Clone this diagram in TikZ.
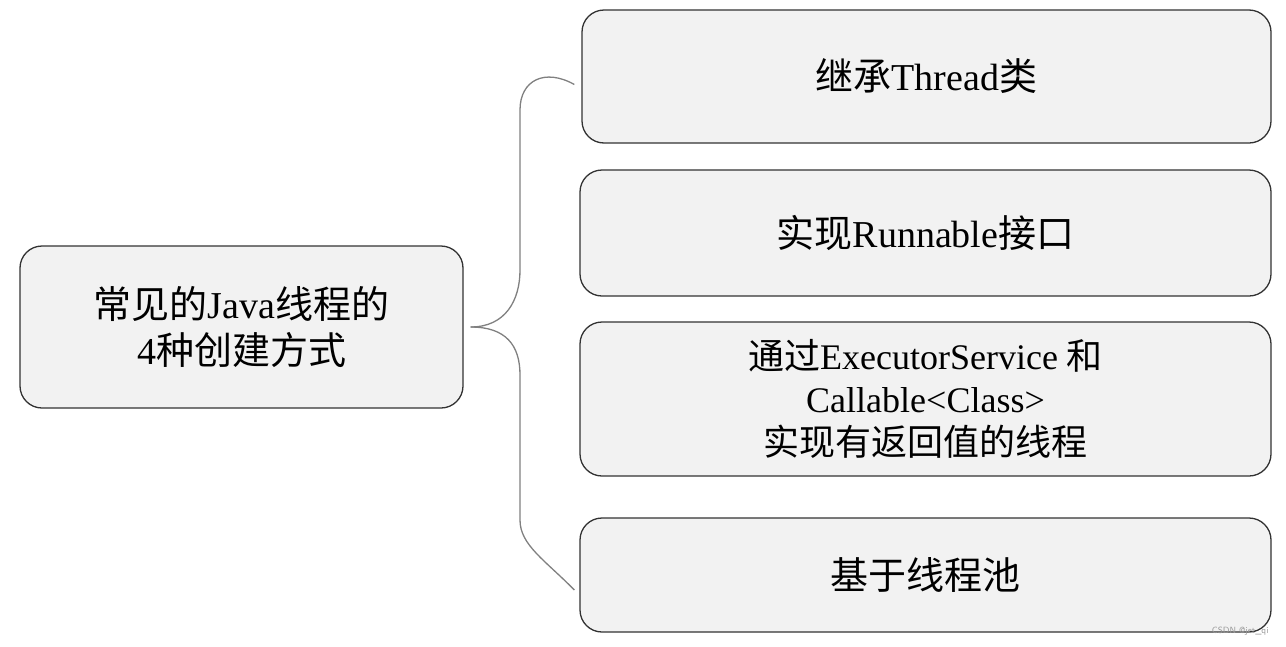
\documentclass[tikz,border=0pt]{standalone}
\usepackage{fontspec}
\setmainfont{Liberation Serif}
\newfontfamily\zh{Noto Sans CJK SC}
\begin{document}
\begin{tikzpicture}[x=1pt,y=-1pt,
 box/.style={draw=black!80,line width=1.3pt,fill=black!5,rounded corners=22pt,inner sep=0pt,align=center,font=\fontsize{38}{46}\selectfont},
 link/.style={draw=black!50,line width=1.3pt}]
\useasboundingbox (0,0) rectangle (1286,646);
\node[box,minimum width=443pt,minimum height=162pt] (L) at (241.5,327) {{\zh 常见的}Java{\zh 线程的}\\4{\zh 种创建方式}};
\node[box,minimum width=689pt,minimum height=133pt] (b1) at (926.5,76.5) {{\zh 继承}Thread{\zh 类}};
\node[box,minimum width=691pt,minimum height=126pt] (b2) at (925.5,233) {{\zh 实现}Runnable{\zh 接口}};
\node[box,minimum width=691pt,minimum height=154pt,font=\fontsize{36}{43}\selectfont] (b3) at (925.5,399) {{\zh 通过}ExecutorService {\zh 和}\\Callable<Class>\\{\zh 实现有返回值的线程}};
\node[box,minimum width=691pt,minimum height=114pt] (b4) at (925.5,575) {{\zh 基于线程池}};
\coordinate (t) at ([xshift=-7pt,yshift=-8pt]b1.west);
\coordinate (u) at ([xshift=-5pt,yshift=-15pt]b4.west);
\draw[link] ([xshift=7pt]L.east) .. controls +(35,0) and (520,300) .. (520,270) -- (520,110) .. controls (520,80) and (545,68) .. (t);
\draw[link] ([xshift=7pt]L.east) .. controls +(35,0) and (520,345) .. (520,375) -- (520,520) .. controls (520,545) and (545,560) .. (u);
\node[font=\fontsize{9}{10}\selectfont\sffamily,text=black!40,anchor=east] (wm) at (1272,631) {CSDN @jet\_qi};
\end{tikzpicture}
\end{document}
